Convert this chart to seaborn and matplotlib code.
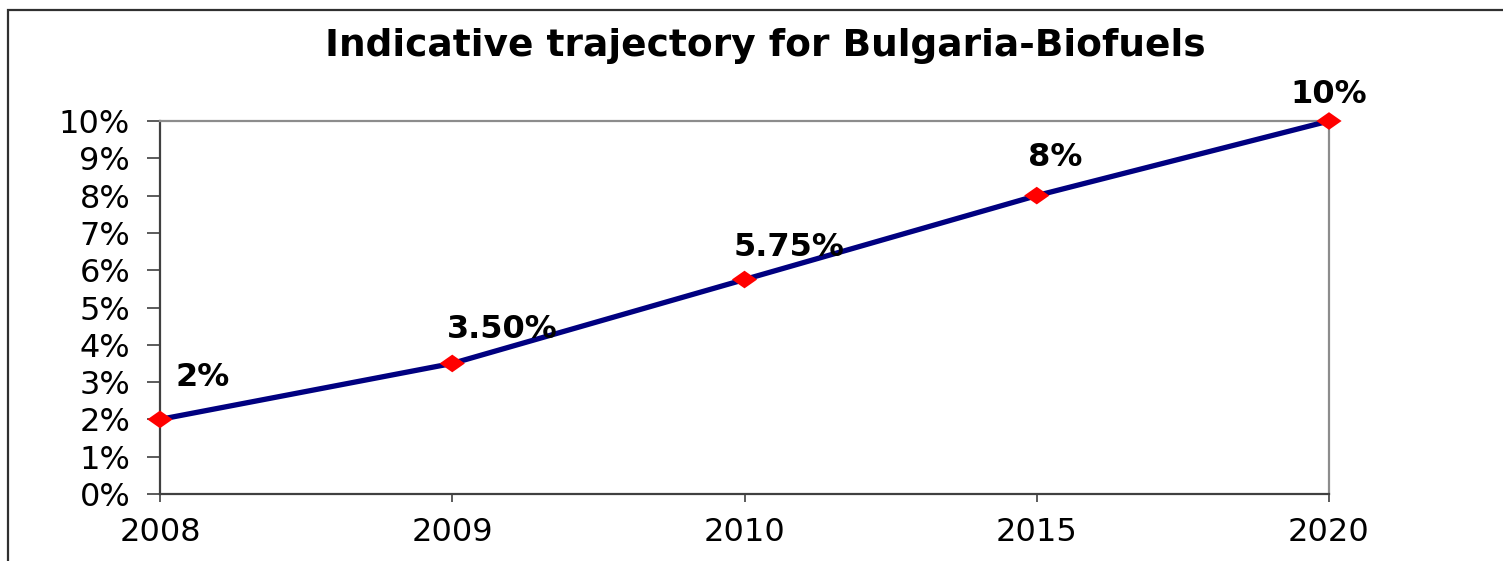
import matplotlib
matplotlib.use("Agg")
import matplotlib.pyplot as plt
import matplotlib.ticker as mticker
from matplotlib.patches import Rectangle
import seaborn as sns
import pandas as pd

# ---- data ----
years = ["2008", "2009", "2010", "2015", "2020"]
share = [2.0, 3.5, 5.75, 8.0, 10.0]
point_labels = ["2%", "3.50%", "5.75%", "8%", "10%"]
title = "Indicative trajectory for Bulgaria-Biofuels"

sns.set_theme(style="white")
plt.rcParams["font.family"] = ["DejaVu Sans"]

W, H = 1503, 561
fig = plt.figure(figsize=(W / 100, H / 100), dpi=100)
ax = fig.add_axes([160 / W, 1 - 494 / H, (1329 - 160) / W, (494 - 121) / H])

df = pd.DataFrame({"year": years, "share": share})
sns.lineplot(data=df, x="year", y="share", ax=ax, color="#000080",
             linewidth=3.8, sort=False, zorder=3)
diamond = [(-1, 0), (0, 0.7), (1, 0), (0, -0.7), (-1, 0)]
sns.scatterplot(data=df, x="year", y="share", ax=ax, color="#ff0000",
                marker=diamond, s=330, edgecolor="none", zorder=4, clip_on=False)

ax.set_xlim(0, len(years) - 1)
ax.set_ylim(0, 10)
ax.yaxis.set_major_locator(mticker.MultipleLocator(1))
ax.yaxis.set_major_formatter(mticker.FuncFormatter(lambda v, p: f"{int(round(v))}%"))
ax.set_xlabel("")
ax.set_ylabel("")

for s in ["left", "bottom"]:
    ax.spines[s].set_color("#404040")
    ax.spines[s].set_linewidth(1.6)
for s in ["top", "right"]:
    ax.spines[s].set_color("#8c8c8c")
    ax.spines[s].set_linewidth(1.6)

ax.tick_params(axis="y", which="major", direction="out", length=9.5, width=1.2,
               color="#404040", pad=12, labelsize=23, left=True, labelcolor="black")
ax.tick_params(axis="x", which="major", direction="out", length=5.5, width=1.2,
               color="#404040", pad=11, labelsize=23, bottom=True, labelcolor="black")

# data labels
offsets = [(11, 19), (-4, 13), (-8, 12), (-6, 16), (0, 8)]
has = ["left", "left", "left", "left", "center"]
for i, (lab, (dx, dy), ha) in enumerate(zip(point_labels, offsets, has)):
    ax.annotate(lab, xy=(i, share[i]), xytext=(dx, dy), textcoords="offset points",
                ha=ha, va="bottom", fontsize=23, fontweight="bold", color="black",
                annotation_clip=False, zorder=5)

fig.text(765 / W, 1 - 46 / H, title, ha="center", va="center",
         fontsize=27, fontweight="bold", color="black")

# outer chart border (partially visible)
fig.patches.append(Rectangle((7.5 / W, -0.5), 2.0, 1.5 - 9.5 / H,
                             transform=fig.transFigure, fill=False,
                             edgecolor="#303030", linewidth=1.6))

fig.savefig("out.png", dpi=100)
